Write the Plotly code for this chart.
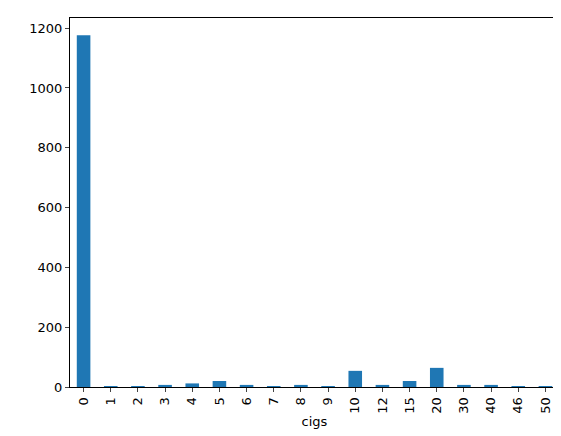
import plotly.graph_objects as go

cigs = ["0", "1", "2", "3", "4", "5", "6", "7", "8", "9", "10", "12", "15", "20", "30", "40", "46", "50"]
counts = [1176, 3, 3, 7, 12, 20, 7, 3, 7, 1, 54, 7, 20, 64, 7, 7, 1, 1]

fig = go.Figure(go.Bar(x=cigs, y=counts, marker_color="#1f77b4", marker_line_width=0, width=0.5))

fig.update_layout(
    width=561, height=436,
    margin=dict(l=62, r=10, t=10, b=57, autoexpand=False),
    plot_bgcolor="white", paper_bgcolor="white",
    font=dict(family="DejaVu Sans", size=13, color="black"),
    showlegend=False,
)
fig.update_xaxes(
    type="category", tickangle=-90, automargin=False,
    title=dict(text="cigs", font=dict(size=13), standoff=4),
    showline=True, linecolor="black", mirror=True, ticks="outside", ticklen=4,
    showgrid=False, range=[-0.5, 17.5],
)
fig.update_yaxes(
    range=[0, 1234], tickvals=[0, 200, 400, 600, 800, 1000, 1200], automargin=False,
    showline=True, linecolor="black", mirror=True, ticks="outside", ticklen=4,
    showgrid=False, zeroline=False,
)

fig.write_html("out.html")
